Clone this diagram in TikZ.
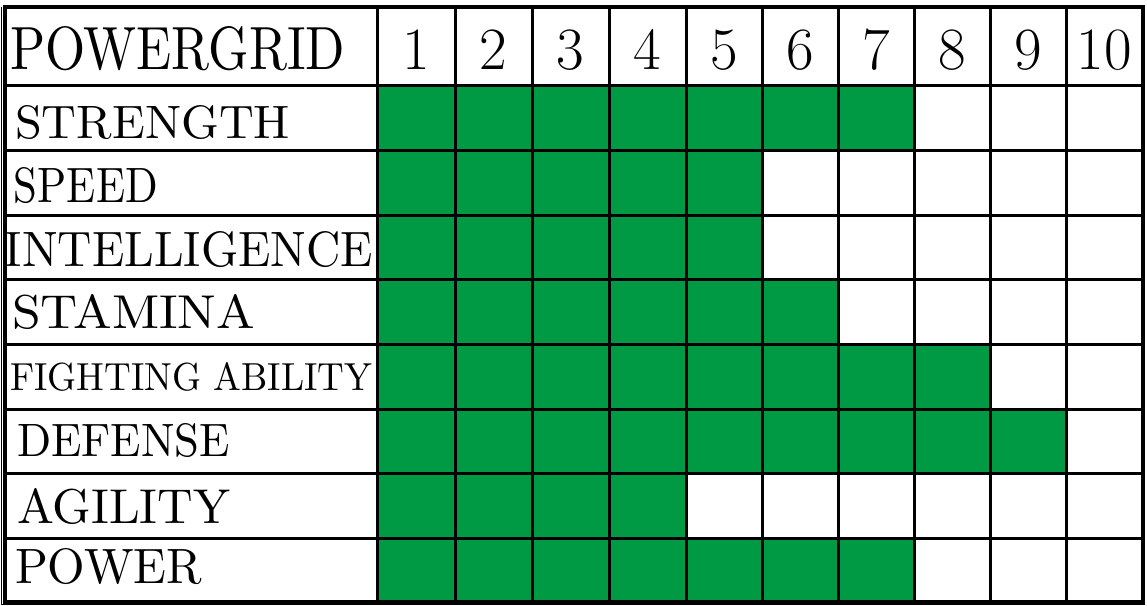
\documentclass[tikz,border=0pt]{standalone}
\usepackage{graphicx}
\definecolor{grn}{HTML}{009A44}
\tikzset{
  cell/.style={draw=black, line width=3pt, inner sep=0pt, outer sep=0pt},
  lab/.style={inner sep=0pt, outer sep=0pt, anchor=south west},
  num/.style={inner sep=0pt, anchor=base, font=\fontsize{60}{60}\selectfont},
  frame/.style={draw=black, line width=3.5pt}
}
\newcommand{\fitlab}[3]{\resizebox{#1pt}{#2pt}{#3}}
\begin{document}
\begin{tikzpicture}[x=1pt,y=-1pt]
\useasboundingbox[fill=white] (0,0) rectangle (1147,605);
% label column cells
\foreach \ya/\yb [count=\r from 0] in {7/85,85/150,150/215,215/279,279/344,344/409,409/473,473/538,538/602}{
  \node[cell, fill=white, minimum width=372pt, minimum height={(\yb-\ya)*1pt}] (h\r) at (191,{(\ya+\yb)/2}) {};
}
% header number cells
\foreach \xa/\xb [count=\c] in {377/455,455/532,532/609,609/686,686/762,762/838,838/914,914/990,990/1066,1066/1143}{
  \node[cell, fill=white, minimum width={(\xb-\xa)*1pt}, minimum height=78pt] (n\c) at ({(\xa+\xb)/2},46) {};
  \node[num] (t\c) at ({(\xa+\xb)/2},69) {\c};
}
% value cells
\foreach \ya/\yb/\n [count=\r] in {85/150/7,150/215/5,215/279/5,279/344/6,344/409/8,409/473/9,473/538/4,538/602/7}{
  \foreach \xa/\xb [count=\c] in {377/455,455/532,532/609,609/686,686/762,762/838,838/914,914/990,990/1066,1066/1143}{
    \ifnum\c>\n\def\fc{white}\else\def\fc{grn}\fi
    \node[cell, fill=\fc, minimum width={(\xb-\xa)*1pt}, minimum height={(\yb-\ya)*1pt}] (c\r-\c) at ({(\xa+\xb)/2},{(\ya+\yb)/2}) {};
  }
}
% outer frame
\coordinate (fa) at (5,7);
\coordinate (fb) at (1143,602);
\draw[frame] (fa) rectangle (fb);
\coordinate (la) at (1.2,7);
\coordinate (lb) at (1.2,604);
\coordinate (lc) at (1145,604);
\draw[line width=1pt] (la) -- (lb) -- (lc);
% labels
\node[lab] (l0) at (10,71) {\fitlab{335}{43}{POWERGRID}};
\node[lab] (l1) at (15,140) {\fitlab{275}{33}{STRENGTH}};
\node[lab] (l2) at (14,204) {\fitlab{144}{35}{SPEED}};
\node[lab] (l3) at (5,268) {\fitlab{368}{35}{INTELLIGENCE}};
\node[lab] (l4) at (12,330) {\fitlab{243}{34}{STAMINA}};
\node[lab] (l5) at (10,391) {\fitlab{362}{28}{FIGHTING ABILITY}};
\node[lab] (l6) at (17,458) {\fitlab{213}{33}{DEFENSE}};
\node[lab] (l7) at (17,525) {\fitlab{213}{35}{AGILITY}};
\node[lab] (l8) at (15,585) {\fitlab{187}{35}{POWER}};
\end{tikzpicture}
\end{document}
